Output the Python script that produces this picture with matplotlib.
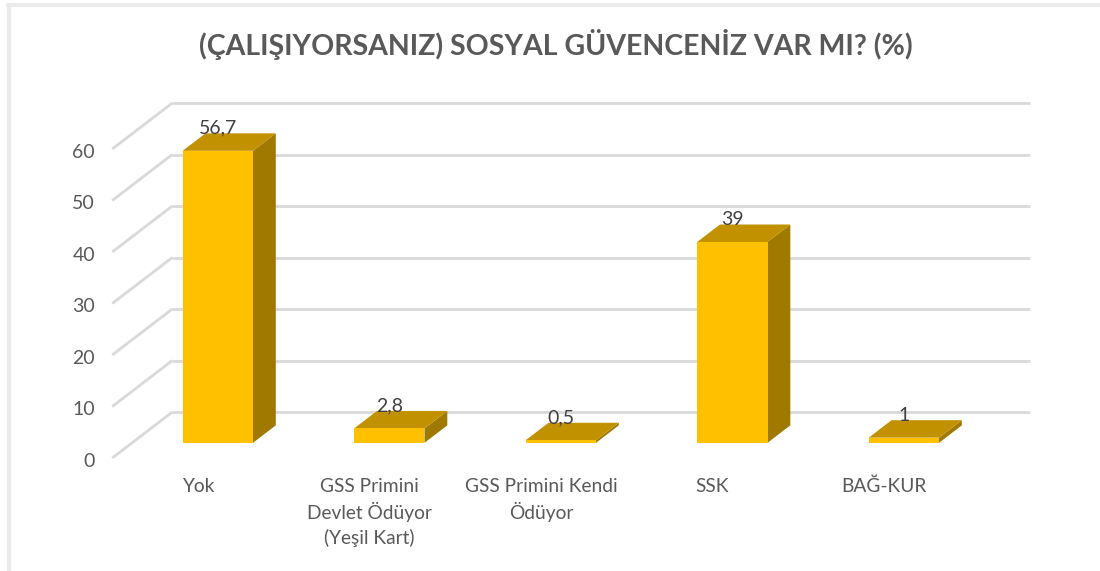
import numpy as np
import matplotlib
matplotlib.use("Agg")
import matplotlib.pyplot as plt
from matplotlib.patches import Polygon
from matplotlib.lines import Line2D

plt.rcParams['font.family'] = ['Lato', 'DejaVu Sans']

#### data ####
categories = ["Yok", "GSS Primini\nDevlet Ödüyor\n(Yeşil Kart)", "GSS Primini Kendi\nÖdüyor", "SSK", "BAĞ-KUR"]
values = [56.7, 2.8, 0.5, 39, 1]
value_labels = ["56,7", "2,8", "0,5", "39", "1"]
yticks = [0, 10, 20, 30, 40, 50, 60]
title = "(ÇALIŞIYORSANIZ) SOSYAL GÜVENCENİZ VAR MI? (%)"

# fake 3d: oblique offset of the back wall, in data units
depth_x, depth_y = 0.35, 8.93
bar_front, bar_depth = 0.33, 0.38
bar_w = 0.41

c_front = "#FFC000"
c_top = "#C29100"
c_side = "#A07A00"
c_grid = "#D9D9D9"
c_text = "#595959"

fig = plt.figure(figsize=(11, 5.71), dpi=100, facecolor="w")
ax = fig.add_axes([0, 0, 1, 1])
ax.set_xlim(-1.1545, 5.259)
ax.set_ylim(-21.94, 88.93)
ax.axis("off")

n = len(categories)
left, right = -0.5, n - 0.5

# walls: diagonal lines on the left + back gridlines
for v in yticks:
    ax.plot([left, left + depth_x], [v, v + depth_y], color=c_grid, lw=2, zorder=1, solid_capstyle="butt")
    ax.plot([left + depth_x, right + depth_x], [v + depth_y, v + depth_y], color=c_grid, lw=2, zorder=1, solid_capstyle="butt")
    ax.text(left - 0.1, v - 0.6, str(v), ha="right", va="center", fontsize=14, color=c_text)

# bars
dx, dy = bar_depth * depth_x, bar_depth * depth_y
for i, v in enumerate(values):
    x0 = i - bar_w / 2 + bar_front * depth_x
    y0 = bar_front * depth_y
    front = [(x0, y0), (x0 + bar_w, y0), (x0 + bar_w, y0 + v), (x0, y0 + v)]
    top = [(x0, y0 + v), (x0 + bar_w, y0 + v), (x0 + bar_w + dx, y0 + v + dy), (x0 + dx, y0 + v + dy)]
    side = [(x0 + bar_w, y0), (x0 + bar_w + dx, y0 + dy), (x0 + bar_w + dx, y0 + v + dy), (x0 + bar_w, y0 + v)]
    ax.add_patch(Polygon(side, closed=True, facecolor=c_side, edgecolor="none", zorder=3))
    ax.add_patch(Polygon(top, closed=True, facecolor=c_top, edgecolor="none", zorder=3))
    ax.add_patch(Polygon(front, closed=True, facecolor=c_front, edgecolor="none", zorder=4))
    ax.text(i + bar_front * depth_x, y0 + v + dy + 1.0, value_labels[i], ha="center", va="center",
            fontsize=14, color="#404040", zorder=5)
    ax.text(i, -3.8, categories[i], ha="center", va="top", fontsize=13.8, color=c_text, linespacing=1.45)

fig.text(556 / 1100, 1 - 45 / 571, title, ha="center", va="center", fontsize=20.5,
         fontweight="bold", color=c_text)

# frame of the screenshot
fig.add_artist(Line2D([8 / 1100, 1], [1 - 5 / 571, 1 - 5 / 571], color="#EBEBEB", lw=3, transform=fig.transFigure))
fig.add_artist(Line2D([9 / 1100, 9 / 1100], [0, 1 - 5 / 571], color="#EBEBEB", lw=3, transform=fig.transFigure))

fig.savefig("out.png", dpi=100, facecolor="w")
